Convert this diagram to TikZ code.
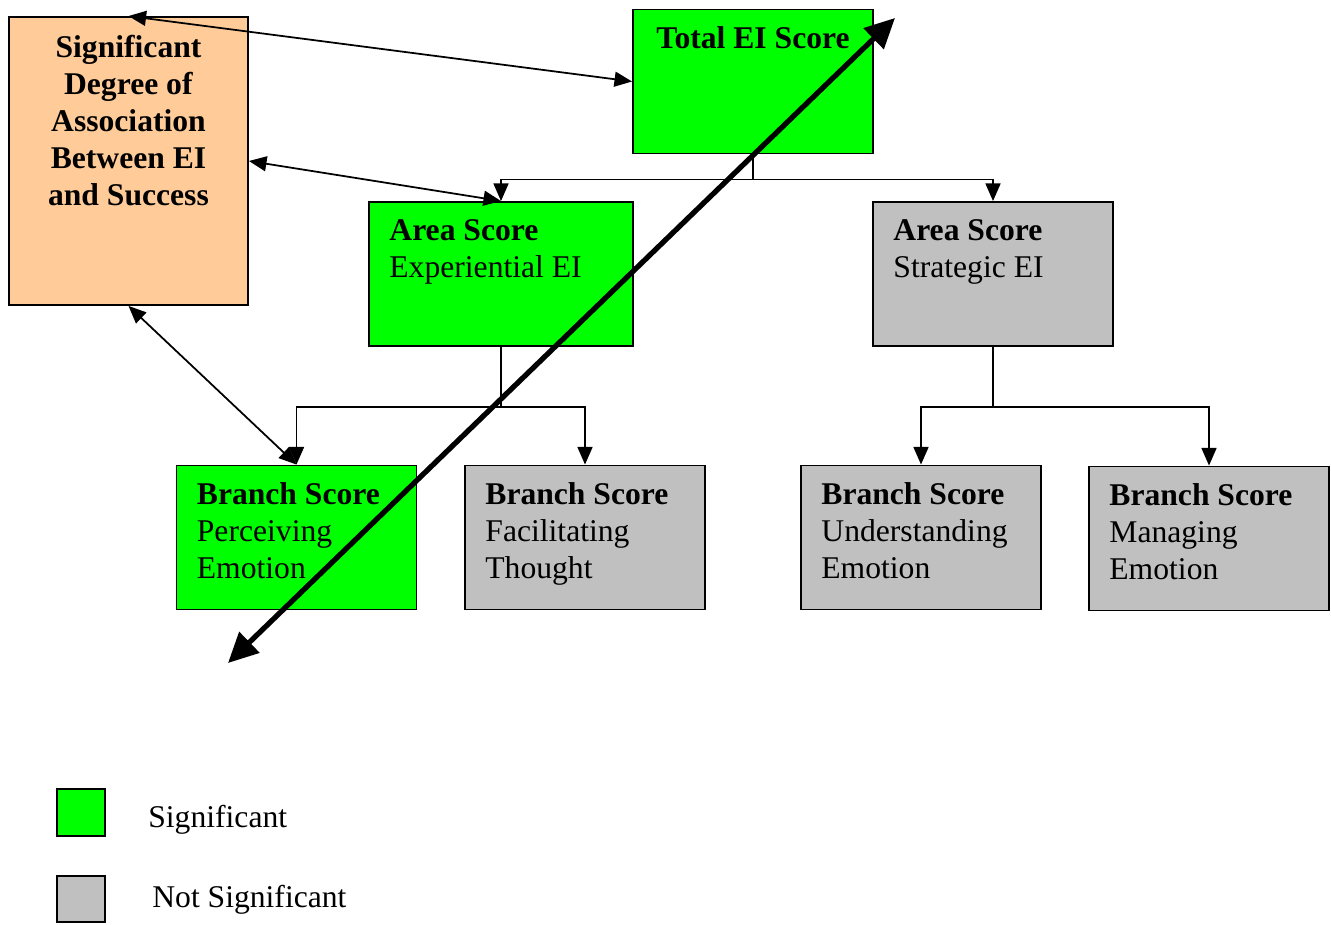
\documentclass[tikz,border=0pt]{standalone}
\usepackage{fontspec}
\setmainfont{Liberation Serif}
\usetikzlibrary{arrows.meta,positioning}
\definecolor{sig}{HTML}{00FF00}
\definecolor{nsig}{HTML}{C0C0C0}
\definecolor{peach}{HTML}{FFCC99}

\begin{document}
\begin{tikzpicture}[x=0.02cm,y=-0.02cm]
\useasboundingbox (0,0) rectangle (1331,925);
\begin{scope}[every node/.style={rectangle,draw,line width=1.1pt,minimum width=4.8cm,minimum height=2.88cm}]
    \node[fill=peach,minimum width=4.78cm,minimum height=5.76cm] (D) at (128.5,161) {};
    \node[fill=sig] (T) at (753,81.5) {};
    \node[fill=sig,minimum width=5.28cm] (E) at (501,274) {};
    \node[fill=nsig] (S) at (993,274) {};
    \node[fill=sig] (P) at (296.5,537.5) {};
    \node[fill=nsig] (F) at (585,537.5) {};
    \node[fill=nsig] (U) at (921,537.5) {};
    \node[fill=nsig] (M) at (1209,538.5) {};
    \node[fill=sig,minimum width=0.96cm,minimum height=0.94cm] (Lg) at (81,812.5) {};
    \node[fill=nsig,minimum width=0.96cm,minimum height=0.92cm] (Ln) at (81,899) {};
\end{scope}

% anchor=base is the baseline of the last line, one line is 37
\begin{scope}[every node/.style={font=\fontsize{18}{21}\selectfont,align=left,inner sep=0pt,anchor=base west}]
    \node[align=center,anchor=base] (Dt) at ([shift={(0,189)}]D.north)
        {\textbf{Significant}\\\textbf{Degree of}\\\textbf{Association}\\\textbf{Between EI}\\\textbf{and Success}};
    \node[anchor=base] (Tt) at ([shift={(0,40)}]T.north) {\textbf{Total EI Score}};
    \node (Et) at ([shift={(21,76)}]E.north west) {\textbf{Area Score}\\Experiential EI};
    \node (St) at ([shift={(21,76)}]S.north west) {\textbf{Area Score}\\Strategic EI};
    \node (Pt) at ([shift={(21,114)}]P.north west) {\textbf{Branch Score}\\Perceiving\\Emotion};
    \node (Ft) at ([shift={(21,114)}]F.north west) {\textbf{Branch Score}\\Facilitating\\Thought};
    \node (Ut) at ([shift={(21,114)}]U.north west) {\textbf{Branch Score}\\Understanding\\Emotion};
    \node (Mt) at ([shift={(21,114)}]M.north west) {\textbf{Branch Score}\\Managing\\Emotion};
    \node (Lgt) at (148,827) {Significant};
    \node (Lnt) at (152,907) {Not Significant};
\end{scope}

\begin{scope}[>={Triangle[length=10pt,width=8.5pt]},line width=1pt]
    \draw [->] (T.south) -- ++(0,25) -| (E.north);
    \draw [->] (T.south) -- ++(0,25) -| (S.north);
    \draw [->] (E.south) -- ++(0,60) -| (P.north);
    \draw [->] (E.south) -- ++(0,60) -| (F.north);
    \draw [->] (S.south) -- ++(0,60) -| (U.north);
    \draw [->] (S.south) -- ++(0,60) -| (M.north);
    \draw [<->] (D.north) -- (T.west);
    \draw [<->] (D.east) -- (E.north);
    \draw [<->] (D.south) -- (P.north);
\end{scope}

\coordinate (lo) at (228,663);
\coordinate (hi) at (895,18);
\draw [{Triangle[length=17pt,width=16pt]}-{Triangle[length=17pt,width=16pt]},line width=3pt] (lo) -- (hi);
\end{tikzpicture}
\end{document}
